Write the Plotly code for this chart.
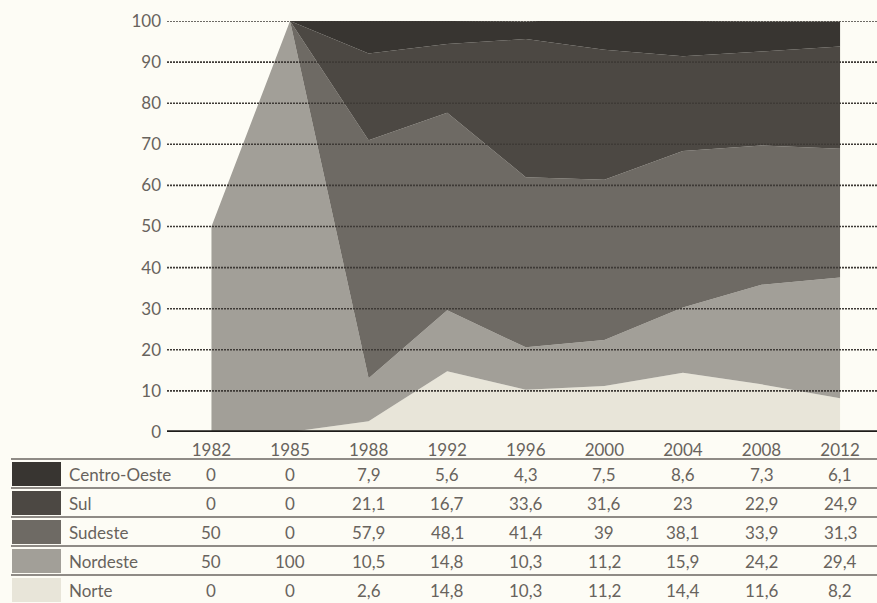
import plotly.graph_objects as go

years = ["1982", "1985", "1988", "1992", "1996", "2000", "2004", "2008", "2012"]
regions = ["Centro-Oeste", "Sul", "Sudeste", "Nordeste", "Norte"]
centro_oeste = [0, 0, 7.9, 5.6, 4.3, 7.5, 8.6, 7.3, 6.1]
sul = [0, 0, 21.1, 16.7, 33.6, 31.6, 23, 22.9, 24.9]
sudeste = [50, 0, 57.9, 48.1, 41.4, 39, 38.1, 33.9, 31.3]
nordeste = [50, 100, 10.5, 14.8, 10.3, 11.2, 15.9, 24.2, 29.4]
norte = [0, 0, 2.6, 14.8, 10.3, 11.2, 14.4, 11.6, 8.2]
# the reference chart does not draw the 1982 Sudeste band (stack top is 50 there)
sudeste_drawn = [0] + sudeste[1:]
y_ticks = [0, 10, 20, 30, 40, 50, 60, 70, 80, 90, 100]

colors = {
    "Centro-Oeste": "#383531",
    "Sul": "#4c4843",
    "Sudeste": "#6e6a64",
    "Nordeste": "#a29f98",
    "Norte": "#e8e5d9",
}
series = {
    "Centro-Oeste": centro_oeste,
    "Sul": sul,
    "Sudeste": sudeste,
    "Nordeste": nordeste,
    "Norte": norte,
}
drawn = {
    "Norte": norte,
    "Nordeste": nordeste,
    "Sudeste": sudeste_drawn,
    "Sul": sul,
    "Centro-Oeste": centro_oeste,
}

W, H = 877, 603
def py(y):
    return 1 - y / H
def px(x):
    return x / W

FONT = "Lato, 'Open Sans', sans-serif"
TXT = "#68635d"
FS = 17

fig = go.Figure()
for name, vals in drawn.items():
    fig.add_trace(go.Scatter(
        x=years, y=vals, name=name, stackgroup="one",
        mode="none", fillcolor=colors[name], hoverinfo="x+y+name",
    ))

shapes = []
# dotted gridlines over the areas
for t in y_ticks[1:]:
    shapes.append(dict(type="line", xref="x domain", yref="y", x0=0, x1=1, y0=t, y1=t,
                       line=dict(color="#3e3a36", width=1.6, dash="2px,1px"), layer="above"))
# thick baseline
shapes.append(dict(type="line", xref="x domain", yref="y", x0=0, x1=1, y0=0, y1=0,
                   line=dict(color="#1e1c1a", width=3.5), layer="above"))

# table
row_y = [474, 503, 532, 561, 590]
sep_y = [459, 488, 517, 546, 575]
annotations = []
for i, name in enumerate(regions):
    shapes.append(dict(type="line", xref="paper", yref="paper", x0=px(11), x1=1,
                       y0=py(sep_y[i]), y1=py(sep_y[i]),
                       line=dict(color="#6a6660", width=1.5)))
    shapes.append(dict(type="rect", xref="paper", yref="paper",
                       x0=px(12), x1=px(61), y0=py(sep_y[i] + 3), y1=py(sep_y[i] + 27),
                       fillcolor=colors[name], line=dict(width=0)))
    annotations.append(dict(text=name, xref="paper", yref="paper", x=px(67), y=py(row_y[i]),
                            xanchor="left", yanchor="middle", showarrow=False,
                            font=dict(family=FONT, size=FS, color=TXT)))
    for j, v in enumerate(series[name]):
        annotations.append(dict(text=f"{v:g}".replace(".", ","), xref="x", yref="paper",
                                x=j, y=py(row_y[i]), xanchor="center", yanchor="middle",
                                showarrow=False, font=dict(family=FONT, size=FS, color=TXT)))

fig.update_layout(
    width=W, height=H,
    margin=dict(l=0, r=0, t=0, b=0, autoexpand=False),
    paper_bgcolor="#fdfcf5", plot_bgcolor="#fdfcf5",
    showlegend=False,
    shapes=shapes, annotations=annotations,
    xaxis=dict(domain=[px(167), 1], type="category", categoryorder="array",
               categoryarray=years, range=[-0.566, 8.47], showgrid=False,
               zeroline=False, showline=False, ticks="",
               ticklabelstandoff=6,
               tickfont=dict(family=FONT, size=FS, color=TXT), fixedrange=True),
    yaxis=dict(domain=[py(432), py(21)], range=[0, 100], tickvals=y_ticks,
               showgrid=False, zeroline=False, showline=False, ticks="",
               ticklabelstandoff=5,
               tickfont=dict(family=FONT, size=FS, color=TXT), fixedrange=True),
)

fig.write_html("out.html", config={"displayModeBar": False},
               post_script="document.body.style.margin='0';document.body.style.background='#fdfcf5';")
